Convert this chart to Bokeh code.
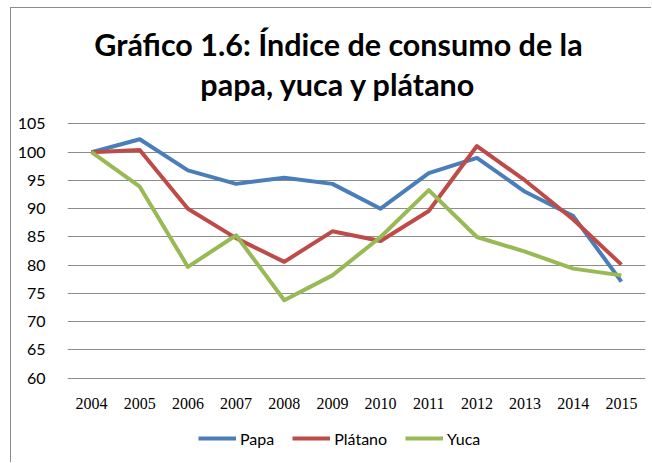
from bokeh.plotting import figure
from bokeh.models import (FactorRange, Range1d, FixedTicker, Legend, LegendItem,
                          Label, ColumnDataSource)
from bokeh.embed import file_html
from bokeh.resources import INLINE

years = ["2004", "2005", "2006", "2007", "2008", "2009", "2010", "2011",
         "2012", "2013", "2014", "2015"]
papa = [100.0, 102.3, 96.8, 94.4, 95.5, 94.4, 90.0, 96.3, 99.0, 93.0, 88.7, 77.1]
platano = [100.0, 100.4, 90.0, 84.8, 80.6, 86.0, 84.3, 89.6, 101.1, 95.0, 88.1, 80.1]
yuca = [100.0, 93.9, 79.7, 85.3, 73.8, 78.2, 85.0, 93.3, 85.0, 82.4, 79.4, 78.2]
y_ticks = [60, 65, 70, 75, 80, 85, 90, 95, 100, 105]
title_lines = ["Gráfico 1.6: Índice de consumo de la", "papa, yuca y plátano"]
series_names = ["Papa", "Plátano", "Yuca"]
series_colors = ["#4A7EBB", "#BE4B48", "#98B954"]

src = ColumnDataSource(dict(year=years, papa=papa, platano=platano, yuca=yuca))
axis_src = ColumnDataSource(dict(year=years, base=[y_ticks[0]] * len(years)))

# The frame covers the whole chart box so that title and legend sit inside it;
# the value range is widened so that 60..105 occupy the reference's plot area.
p = figure(width=641, height=455, output_backend="svg", toolbar_location=None,
           x_range=FactorRange(factors=years), y_range=Range1d(44.90, 125.446),
           x_axis_location=None,
           min_border_left=56, min_border_right=7, min_border_top=0,
           min_border_bottom=0)
p.styles = {"margin-left": "10px", "margin-top": "7px",
            "border-left": "1px solid #8C8C8C", "border-top": "1px solid #8C8C8C"}
p.outline_line_color = None
p.background_fill_color = "white"
p.border_fill_color = "white"

# grid
p.xgrid.grid_line_color = None
p.ygrid.grid_line_color = "#8C8C8C"
p.ygrid.grid_line_width = 1.2
p.yaxis.ticker = FixedTicker(ticks=y_ticks)

ax = p.yaxis[0]
ax.axis_line_color = None
ax.major_tick_line_color = None
ax.minor_tick_line_color = None
ax.major_label_text_font = "Lato"
ax.major_label_text_font_size = "16px"
ax.major_label_text_color = "#000000"
ax.major_label_standoff = 16

# category labels under the lowest gridline
p.text(x="year", y="base", text="year", source=axis_src, text_align="center",
       text_baseline="middle", y_offset=25, text_font="Lato",
       text_font_size="16px", text_color="#000000")

renderers = []
for col, name, color in zip(["papa", "platano", "yuca"], series_names, series_colors):
    r = p.line(x="year", y=col, source=src, line_color=color, line_width=4,
               line_join="round")
    renderers.append(r)

legend = Legend(items=[LegendItem(label=n, renderers=[r]) for n, r in zip(series_names, renderers)],
                orientation="horizontal", location=(131, 15),
                glyph_width=38, glyph_height=20, label_standoff=4, spacing=18,
                padding=0, margin=0, border_line_color=None,
                background_fill_alpha=0, label_text_font="Lato",
                label_text_font_size="16px", label_text_color="#000000")
p.add_layout(legend, "center")

for i, t in enumerate(title_lines):
    p.add_layout(Label(x=271, y=420 - 40 * i, x_units="screen", y_units="screen",
                       text=t, text_align="center", text_baseline="alphabetic",
                       text_font="Lato", text_font_style="bold",
                       text_font_size="30.5px", text_color="#000000"))

open("out.html", "w").write(file_html(p, INLINE))
